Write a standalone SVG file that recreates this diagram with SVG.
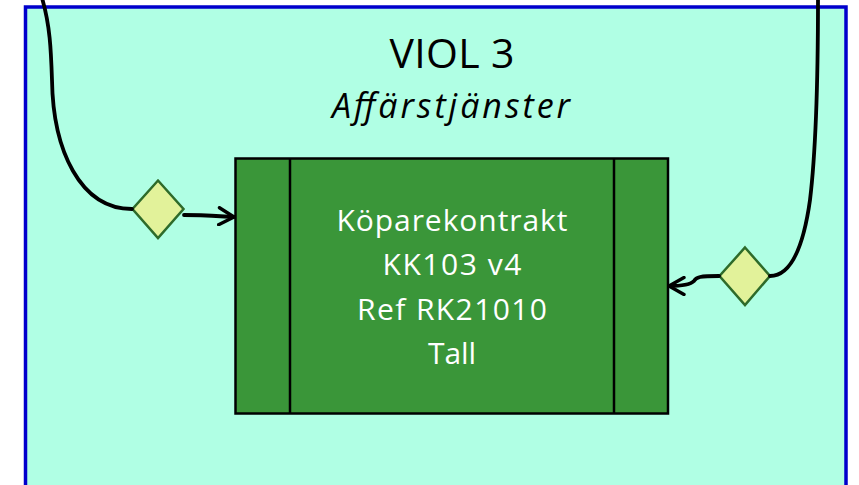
<svg xmlns="http://www.w3.org/2000/svg" width="859" height="485" viewBox="0 0 859 485">
<style>
.frame{fill:#B0FFE4;stroke:#0000CC;stroke-width:3.5}
.box{fill:#3A9639;stroke:#000;stroke-width:2.5}
.div{stroke:#000;stroke-width:2.5}
.gate{fill:#E2F29A;stroke:#2E6B2A;stroke-width:2.5}
.conn{fill:none;stroke:#000;stroke-width:3.8;stroke-linecap:round}
.t{font-family:"Open Sans","Liberation Sans",sans-serif;text-anchor:middle}
</style>
<defs>
<marker id="arr" markerWidth="20" markerHeight="20" refX="17" refY="10" orient="auto" markerUnits="userSpaceOnUse" viewBox="0 0 20 20">
<path d="M 2 1.5 L 17 10 L 2 18.5" fill="none" stroke="#000" stroke-width="3.4" stroke-linecap="round" stroke-linejoin="round"/>
</marker>
</defs>
<rect width="859" height="485" fill="#fff"/>
<g id="viol3">
<rect class="frame" x="25.5" y="7" width="820.5" height="490"/>
<text class="t" x="452" y="68" font-size="41" fill="#000" textLength="125">VIOL 3</text>
<text class="t" x="451" y="118" font-size="34" font-style="italic" fill="#000" textLength="238">Affärstjänster</text>
</g>
<g id="kk103">
<rect class="box" x="235.5" y="158.5" width="432.5" height="255"/>
<line class="div" x1="290" y1="158.5" x2="290" y2="413.5"/>
<line class="div" x1="614" y1="158.5" x2="614" y2="413.5"/>
<g class="t" font-size="30" fill="#fff">
<text x="452" y="231" textLength="231">Köparekontrakt</text>
<text x="452" y="275" textLength="139">KK103 v4</text>
<text x="452" y="320" textLength="190">Ref RK21010</text>
<text x="452" y="364" textLength="48">Tall</text>
</g>
</g>
<g id="gate-left">
<polygon class="gate" points="158,180.5 183.5,209 158,238 132.5,209"/>
</g>
<g id="gate-right">
<polygon class="gate" points="745,247.5 770,276 745,305 719.5,276"/>
</g>
<g id="connectors">
<path class="conn" d="M 42 -2 C 50 25, 51 50, 52 80 C 53 150, 80 209, 132 209"/>
<path class="conn" d="M 184 215 C 200 215, 215 216, 234 217" marker-end="url(#arr)"/>
<path class="conn" d="M 818 -2 C 818 60, 816 150, 810 200 C 803 250, 790 276, 770 276"/>
<path class="conn" d="M 719 276 C 700 276, 696 277, 694 281 C 690 285, 680 286, 669 286" marker-end="url(#arr)"/>
</g>
</svg>
